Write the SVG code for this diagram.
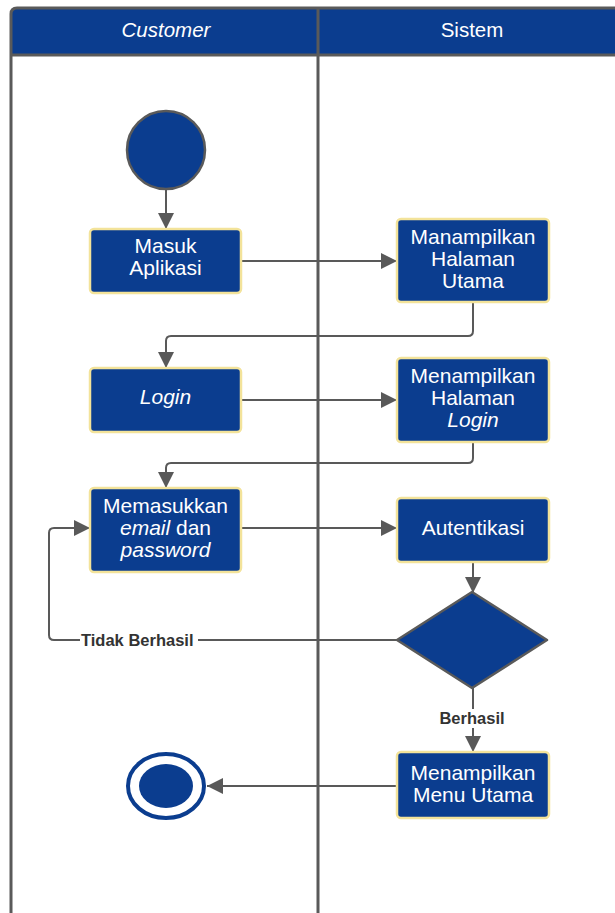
<svg xmlns="http://www.w3.org/2000/svg" width="615" height="913" viewBox="0 0 615 913">
  <defs>
    <marker id="arrow" viewBox="0 0 10 10" refX="10" refY="5" markerWidth="17" markerHeight="16" markerUnits="userSpaceOnUse" orient="auto">
      <path d="M0,0 L10,5 L0,10 z" fill="#595959"/>
    </marker>
    <style>
      .lane { fill: none; stroke: #5a5a5a; stroke-width: 3; }
      .head { fill: #0b3d8f; }
      .act { fill: #0b3d8f; stroke: #f3e39a; stroke-width: 2.5; }
      .node { fill: #0b3d8f; stroke: #5a5a5a; stroke-width: 2.5; }
      .txt { font-family: "Liberation Sans", Arial, sans-serif; font-size: 21px; fill: #ffffff; text-anchor: middle; }
      .hdr { font-family: "Liberation Sans", Arial, sans-serif; font-size: 20.5px; fill: #ffffff; text-anchor: middle; }
      .lbl { font-family: "Liberation Sans", Arial, sans-serif; font-size: 16.5px; font-weight: bold; fill: #333333; }
      .edge { fill: none; stroke: #595959; stroke-width: 2; }
    </style>
  </defs>

  <rect width="615" height="913" fill="#ffffff"/>

  <!-- swimlanes -->
  <g id="lanes">
    <path class="head" d="M11,55 V14 Q11,8 17,8 H615 V55 z"/>
    <text class="hdr" x="166" y="37" font-style="italic">Customer</text>
    <text class="hdr" x="472" y="37">Sistem</text>
    <path class="lane" d="M11,913 V14 Q11,8 17,8 H615"/>
    <line class="lane" x1="11" y1="55" x2="615" y2="55"/>
    <line class="lane" x1="318" y1="8" x2="318" y2="913"/>
  </g>

  <!-- connectors -->
  <g id="connectors">
    <line class="edge" x1="166" y1="189" x2="166" y2="229" marker-end="url(#arrow)"/>
    <line class="edge" x1="241" y1="261" x2="397" y2="261" marker-end="url(#arrow)"/>
    <path class="edge" d="M473,302 V331 Q473,336 468,336 H171 Q166,336 166,341 V368" marker-end="url(#arrow)"/>
    <line class="edge" x1="241" y1="400" x2="397" y2="400" marker-end="url(#arrow)"/>
    <path class="edge" d="M473,442 V458 Q473,463 468,463 H171 Q166,463 166,468 V488" marker-end="url(#arrow)"/>
    <line class="edge" x1="241" y1="528" x2="397" y2="528" marker-end="url(#arrow)"/>
    <line class="edge" x1="473" y1="562" x2="473" y2="593" marker-end="url(#arrow)"/>
    <path class="edge" d="M397,640 H54 Q49,640 49,635 V533 Q49,528 54,528 H90" marker-end="url(#arrow)"/>
    <line class="edge" x1="473" y1="688" x2="473" y2="752" marker-end="url(#arrow)"/>
    <line class="edge" x1="397" y1="786" x2="207" y2="786" marker-end="url(#arrow)"/>
    <rect x="80" y="630" width="118" height="20" fill="#ffffff"/>
    <text class="lbl" x="81" y="646">Tidak Berhasil</text>
    <rect x="436" y="709" width="72" height="19" fill="#ffffff"/>
    <text class="lbl" x="472" y="724" text-anchor="middle">Berhasil</text>
  </g>

  <g id="start">
    <ellipse class="node" cx="166" cy="150" rx="39" ry="39"/>
  </g>

  <g id="masuk-aplikasi">
    <rect class="act" x="90" y="229" width="151" height="64" rx="4"/>
    <text class="txt" x="165.5" y="253">Masuk</text>
    <text class="txt" x="165.5" y="275">Aplikasi</text>
  </g>

  <g id="halaman-utama">
    <rect class="act" x="397" y="219" width="152" height="83" rx="4"/>
    <text class="txt" x="473" y="244">Manampilkan</text>
    <text class="txt" x="473" y="266">Halaman</text>
    <text class="txt" x="473" y="288">Utama</text>
  </g>

  <g id="login">
    <rect class="act" x="90" y="368" width="151" height="64" rx="4"/>
    <text class="txt" x="165.5" y="404" font-style="italic">Login</text>
  </g>

  <g id="halaman-login">
    <rect class="act" x="397" y="358" width="152" height="84" rx="4"/>
    <text class="txt" x="473" y="383">Menampilkan</text>
    <text class="txt" x="473" y="405">Halaman</text>
    <text class="txt" x="473" y="427" font-style="italic">Login</text>
  </g>

  <g id="memasukkan">
    <rect class="act" x="90" y="488" width="151" height="84" rx="4"/>
    <text class="txt" x="165.5" y="513">Memasukkan</text>
    <text class="txt" x="165.5" y="535"><tspan font-style="italic">email</tspan> dan</text>
    <text class="txt" x="165.5" y="557" font-style="italic">password</text>
  </g>

  <g id="autentikasi">
    <rect class="act" x="397" y="498" width="152" height="64" rx="4"/>
    <text class="txt" x="473" y="535">Autentikasi</text>
  </g>

  <g id="decision">
    <path class="node" d="M472,592 L547,640 L472,688 L397,640 z" stroke-linejoin="round"/>
  </g>

  <g id="menu-utama">
    <rect class="act" x="397" y="752" width="152" height="66" rx="4"/>
    <text class="txt" x="473" y="780">Menampilkan</text>
    <text class="txt" x="473" y="802">Menu Utama</text>
  </g>

  <g id="end">
    <ellipse cx="166" cy="786" rx="38" ry="32" fill="#ffffff" stroke="#0b3d8f" stroke-width="4"/>
    <ellipse cx="166" cy="786" rx="27" ry="22" fill="#0b3d8f"/>
  </g>
</svg>
